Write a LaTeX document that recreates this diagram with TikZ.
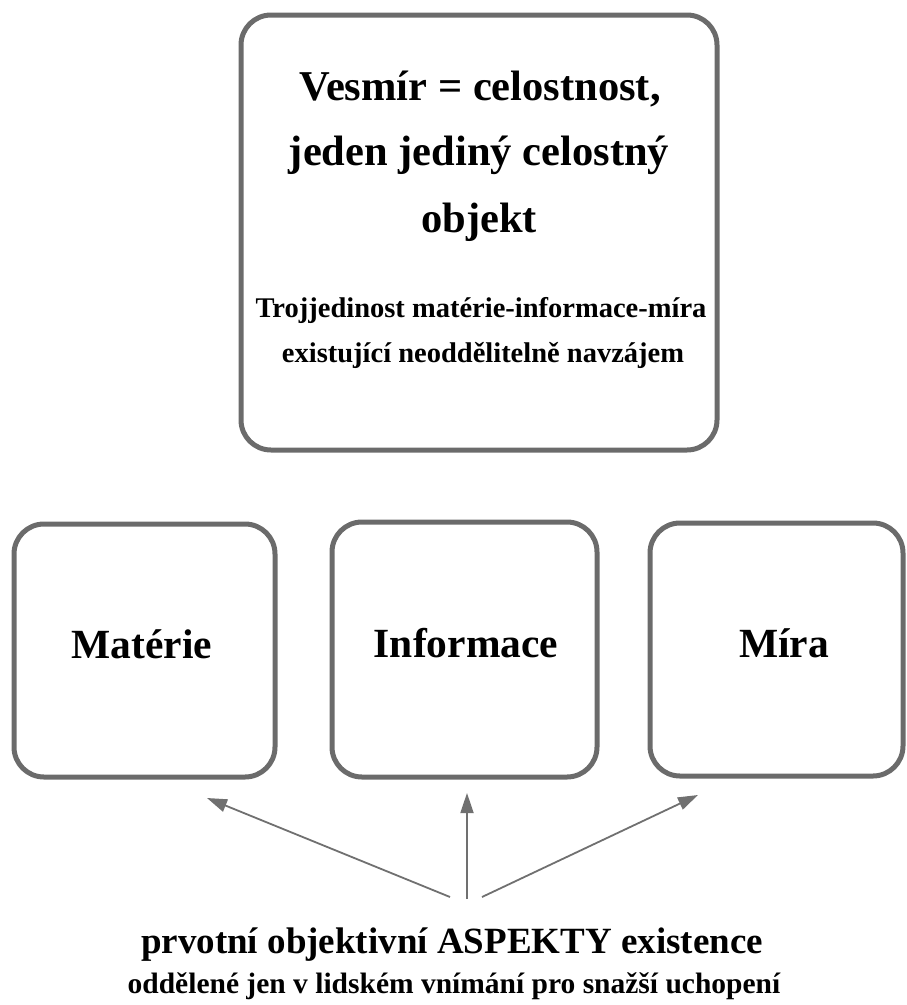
\documentclass[tikz,border=0pt]{standalone}
\usepackage{fontspec}
\setmainfont{Liberation Serif}
\usetikzlibrary{arrows.meta}
\definecolor{boxgray}{HTML}{6B6B6B}
\definecolor{arrgray}{HTML}{707070}
\tikzset{
  frame/.style={draw=boxgray, line width=5pt, rounded corners=30pt, inner sep=0pt},
  conn/.style={draw=arrgray, line width=1.8pt, -{Triangle[length=20pt,width=13pt]}},
  txt/.style={anchor=base, inner sep=0pt, text=black},
  big/.style={txt, font=\bfseries\fontsize{42.5}{50}\selectfont},
  small/.style={txt, font=\bfseries\fontsize{28.5}{33}\selectfont},
  label/.style={txt, font=\bfseries\fontsize{41.5}{48}\selectfont},
}
\begin{document}
\begin{tikzpicture}[x=1pt,y=-1pt]
\useasboundingbox (0,0) rectangle (907,1005);
% top box
\node[frame, minimum width=476pt, minimum height=435pt] (top) at (479,232.5) {};
\node[big] (t1) at (480,100) {Vesmír = celostnost,};
\node[big] (t2) at (479,165) {jeden jediný celostný};
\node[big] (t3) at (479,232) {objekt};
\node[small] (t4) at (481,317) {Trojjedinost matérie-informace-míra};
\node[small] (t5) at (483,362) {existující neoddělitelně navzájem};
% three boxes
\node[frame, minimum width=261pt, minimum height=253pt] (bm) at (144.5,650.5) {};
\node[frame, minimum width=265pt, minimum height=255pt] (bi) at (464.5,649.5) {};
\node[frame, minimum width=253pt, minimum height=253pt] (bk) at (776.5,649.5) {};
\node[label] (lm) at (142,658) {Matérie};
\node[label] (li) at (466,657) {Informace};
\node[label] (lk) at (784,657) {Míra};
% bottom text
\node[txt, font=\bfseries\fontsize{37}{42}\selectfont] (a1) at (452,953) {prvotní objektivní ASPEKTY existence};
\node[txt, font=\bfseries\fontsize{29.5}{34}\selectfont] (a2) at (454,993) {oddělené jen v lidském vnímání pro snažší uchopení};
% arrows
\coordinate (sl) at (450,897);
\coordinate (sc) at (467,899);
\coordinate (sr) at (482,897);
\coordinate (el) at (207,798);
\coordinate (ec) at (467,793);
\coordinate (er) at (698,795);
\draw[conn] (sl) -- (el);
\draw[conn] (sc) -- (ec);
\draw[conn] (sr) -- (er);
\end{tikzpicture}
\end{document}
